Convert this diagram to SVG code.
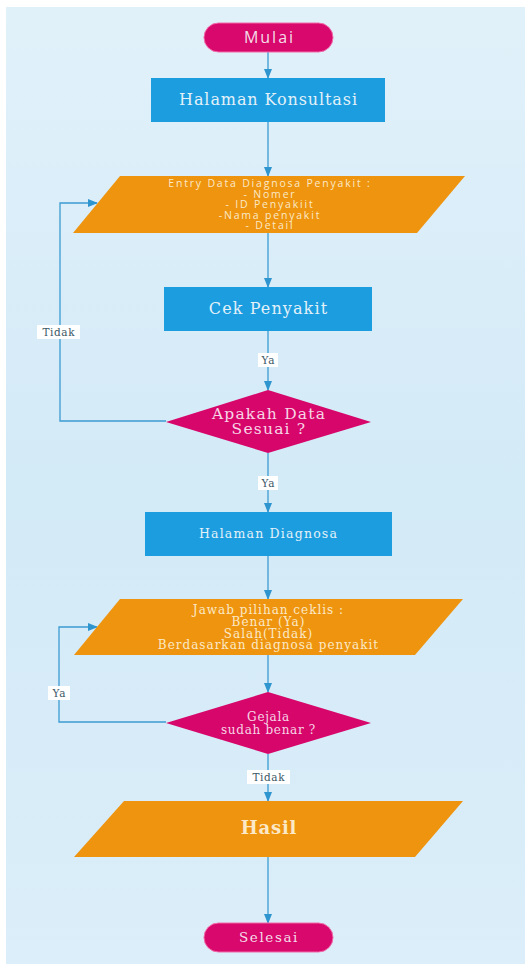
<svg xmlns="http://www.w3.org/2000/svg" width="525" height="964" viewBox="0 0 525 964">
<defs>
<linearGradient id="bg" x1="0" y1="0" x2="0" y2="1">
<stop offset="0" stop-color="#e1f1fa"/>
<stop offset="0.5" stop-color="#d3eaf7"/>
<stop offset="1" stop-color="#dbeef9"/>
</linearGradient>
<marker id="ah" markerWidth="10" markerHeight="8" refX="9" refY="4" orient="auto" markerUnits="userSpaceOnUse">
<path d="M0,0 L10,4 L0,8 Z" fill="#2f95cf"/>
</marker>
<style>
.ln{fill:none;stroke:#3c9bd2;stroke-width:1.3;}
.term{fill:#d8086c;stroke:#f26aa8;stroke-width:1;}
.proc{fill:#1b9de0;}
.io{fill:#ee940f;}
.dec{fill:#d7066b;}
.ts{font-family:"DejaVu Serif","Liberation Serif",serif;text-anchor:middle;}
.tsans{font-family:"Open Sans","Liberation Sans",sans-serif;text-anchor:middle;}
.lab{font-family:"DejaVu Serif","Liberation Serif",serif;font-size:10.5px;letter-spacing:0.6px;fill:#3b5866;text-anchor:middle;}
.lbg{fill:#ffffff;}
</style>
</defs>
<rect x="0" y="0" width="525" height="964" fill="#ffffff"/>
<rect x="6" y="7" width="519" height="957" fill="url(#bg)"/>

<g id="connectors">
<line class="ln" x1="268" y1="52" x2="268" y2="78" marker-end="url(#ah)"/>
<line class="ln" x1="268" y1="122" x2="268" y2="176" marker-end="url(#ah)"/>
<line class="ln" x1="268" y1="233" x2="268" y2="287" marker-end="url(#ah)"/>
<line class="ln" x1="268" y1="331" x2="268" y2="390" marker-end="url(#ah)"/>
<polyline class="ln" points="166,421 60,421 60,203 97,203" marker-end="url(#ah)"/>
<line class="ln" x1="268" y1="453" x2="268" y2="512" marker-end="url(#ah)"/>
<line class="ln" x1="268" y1="556" x2="268" y2="599" marker-end="url(#ah)"/>
<line class="ln" x1="268" y1="655" x2="268" y2="692" marker-end="url(#ah)"/>
<polyline class="ln" points="166,722 59,722 59,627 97,627" marker-end="url(#ah)"/>
<line class="ln" x1="268" y1="754" x2="268" y2="801" marker-end="url(#ah)"/>
<line class="ln" x1="268" y1="857" x2="268" y2="923" marker-end="url(#ah)"/>
<rect class="lbg" x="37" y="325" width="43" height="14"/>
<text class="lab" x="58.8" y="336">Tidak</text>
<rect class="lbg" x="258" y="353" width="20" height="14"/>
<text class="lab" x="268.3" y="364">Ya</text>
<rect class="lbg" x="258" y="476" width="20" height="14"/>
<text class="lab" x="268.3" y="487">Ya</text>
<rect class="lbg" x="48" y="686" width="22" height="14"/>
<text class="lab" x="59.3" y="697">Ya</text>
<rect class="lbg" x="247" y="770" width="43" height="14"/>
<text class="lab" x="268.8" y="781">Tidak</text>
</g>

<g id="mulai">
<rect class="term" x="204" y="23" width="129" height="29" rx="14.5"/>
<text class="tsans" x="269.5" y="43" font-size="16" letter-spacing="2" fill="#f4dce8">Mulai</text>
</g>

<g id="halaman-konsultasi">
<rect class="proc" x="151" y="78" width="234" height="44"/>
<text class="ts" x="268.5" y="105" font-size="16" letter-spacing="0.9" fill="#e3f1f8">Halaman Konsultasi</text>
</g>

<g id="entry-data">
<polygon class="io" points="120,176 465,176 417,233 73,233"/>
<g class="tsans" font-size="10.5" letter-spacing="1.8" fill="#fbe9c8">
<text x="270" y="187">Entry Data Diagnosa Penyakit :</text>
<text x="270" y="197.5">-  Nomer</text>
<text x="270" y="208">- ID Penyakiit</text>
<text x="270" y="218.5">-Nama penyakit</text>
<text x="270" y="229">- Detail</text>
</g>
</g>

<g id="cek-penyakit">
<rect class="proc" x="164" y="287" width="208" height="44"/>
<text class="ts" x="268.5" y="314" font-size="16" letter-spacing="1.1" fill="#e3f1f8">Cek Penyakit</text>
</g>

<g id="apakah-data-sesuai">
<polygon class="dec" points="268,390 371,422 268,453 166,422"/>
<text class="ts" x="269" y="419" font-size="15.5" letter-spacing="1.2" fill="#f6d6e6">Apakah Data</text>
<text class="ts" x="269" y="434" font-size="15.5" letter-spacing="1.2" fill="#f6d6e6">Sesuai ?</text>
</g>

<g id="halaman-diagnosa">
<rect class="proc" x="145" y="512" width="247" height="44"/>
<text class="ts" x="268.5" y="538" font-size="12.5" letter-spacing="1.2" fill="#e3f1f8">Halaman Diagnosa</text>
</g>

<g id="jawab-pilihan">
<polygon class="io" points="120,599 463,599 415,655 74,655"/>
<g class="ts" font-size="12" letter-spacing="1" fill="#fbe9c8">
<text x="268.5" y="614">Jawab pilihan ceklis :</text>
<text x="268.5" y="626">Benar (Ya)</text>
<text x="268.5" y="637.5">Salah(Tidak)</text>
<text x="268.5" y="649">Berdasarkan diagnosa penyakit</text>
</g>
</g>

<g id="gejala-sudah-benar">
<polygon class="dec" points="268,692 371,723 268,754 166,723"/>
<text class="ts" x="268.5" y="721" font-size="12" letter-spacing="0.7" fill="#f6d6e6">Gejala</text>
<text class="ts" x="268.5" y="734" font-size="12" letter-spacing="0.7" fill="#f6d6e6">sudah benar ?</text>
</g>

<g id="hasil">
<polygon class="io" points="124,801 463,801 415,857 74,857"/>
<text class="ts" x="269" y="834" font-size="18" font-weight="bold" letter-spacing="0.8" fill="#fbe9c8">Hasil</text>
</g>

<g id="selesai">
<rect class="term" x="204" y="923" width="129" height="29" rx="14.5"/>
<text class="ts" x="269" y="942" font-size="13.5" letter-spacing="1.6" fill="#f4dce8">Selesai</text>
</g>
</svg>
